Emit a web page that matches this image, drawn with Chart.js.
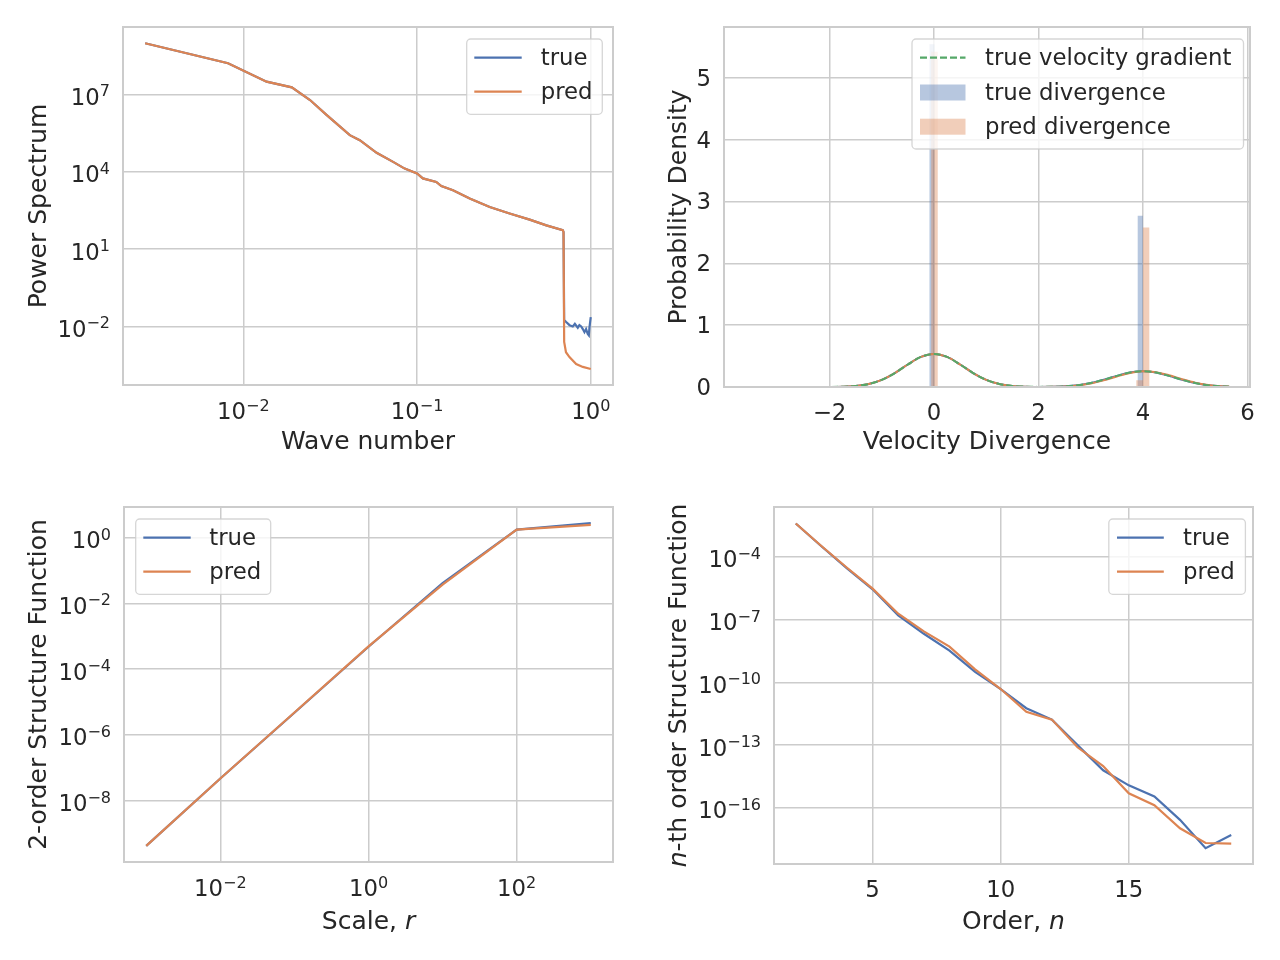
<!DOCTYPE html>
<html>
<head>
<meta charset="utf-8">
<script src="https://cdn.jsdelivr.net/npm/chart.js@4.4.1/dist/chart.umd.min.js"></script>
<style>
html, body { margin: 0; padding: 0; background: #fff; }
#wrap { position: relative; width: 1280px; height: 960px; }
canvas { position: absolute; }
</style>
</head>
<body>
<div id="wrap">
  <canvas id="spec" width="640" height="480" style="left:0;top:0"></canvas>
  <canvas id="divg" width="640" height="480" style="left:640px;top:0"></canvas>
  <canvas id="sf2" width="640" height="480" style="left:0;top:480px"></canvas>
  <canvas id="sfn" width="640" height="480" style="left:640px;top:480px"></canvas>
</div>
<script>
// ---- power spectrum (top left) ----
const waveNum = [0.00272, 0.00816, 0.0136, 0.0190, 0.0242, 0.0301, 0.0410, 0.0468, 0.0585, 0.0728,
                 0.0849, 0.100, 0.108, 0.129, 0.138, 0.161, 0.201, 0.262, 0.341, 0.445, 0.555, 0.690, 0.697];
const specMain = [9.5e8, 1.6e8, 3.1e7, 1.86e7, 6.0e6, 1.6e6, 2.6e5, 1.66e5, 5.4e4, 2.4e4,
                  1.32e4, 8.5e3, 5.5e3, 4.0e3, 2.75e3, 1.9e3, 912, 427, 240, 138, 83, 54, 46];
const waveTailTrue = [0.703, 0.722, 0.755, 0.788, 0.81, 0.842, 0.86, 0.881, 0.90, 0.92, 0.94, 0.961, 0.975, 0.983, 1.0];
const specTailTrue = [0.0178, 0.0148, 0.0112, 0.0100, 0.0126, 0.0089, 0.0112, 0.0100, 0.0079, 0.0060, 0.0079, 0.0051, 0.0045, 0.0093, 0.023];
const waveTailPred = [0.703, 0.72, 0.754, 0.824, 0.90, 1.0];
const specTailPred = [0.0025, 0.0010, 6.5e-4, 3.5e-4, 2.7e-4, 2.24e-4];
const specXTicks = [1e-2, 1e-1, 1e0];
const specYTicks = [1e-2, 1e1, 1e4, 1e7];

// ---- velocity divergence pdf (top right) ----
const kdeX = [-3.5, -3.0, -2.5, -2.0, -1.75, -1.5, -1.25, -1.0, -0.75, -0.5, -0.25, 0, 0.25, 0.5, 0.75, 1.0, 1.25, 1.5,
              1.75, 2.0, 2.25, 2.5, 2.75, 3.0, 3.25, 3.5, 3.75, 4.0, 4.25, 4.5, 4.75, 5.0, 5.25, 5.5, 5.65];
const kdeTrue = [0, 0, 0, 0.001, 0.005, 0.017, 0.048, 0.115, 0.225, 0.364, 0.486, 0.535, 0.486, 0.364, 0.225, 0.115, 0.048, 0.017,
                 0.005, 0.002, 0.004, 0.011, 0.029, 0.064, 0.117, 0.180, 0.234, 0.255, 0.234, 0.180, 0.117, 0.064, 0.029, 0.011, 0.006];
const kdePred = [0, 0, 0, 0.001, 0.005, 0.017, 0.048, 0.115, 0.225, 0.364, 0.486, 0.535, 0.486, 0.364, 0.225, 0.115, 0.048, 0.017,
                 0.005, 0.002, 0.003, 0.009, 0.025, 0.057, 0.107, 0.170, 0.226, 0.254, 0.240, 0.190, 0.126, 0.070, 0.033, 0.013, 0.007];
const kdeGrad = [0, 0, 0, 0.001, 0.005, 0.017, 0.048, 0.115, 0.225, 0.364, 0.486, 0.535, 0.486, 0.364, 0.225, 0.115, 0.048, 0.017,
                 0.005, 0.002, 0.004, 0.011, 0.029, 0.064, 0.117, 0.180, 0.234, 0.255, 0.234, 0.180, 0.117, 0.064, 0.029, 0.011, 0.006];
const trueBinLo = [-0.09, 3.90];
const trueBinHi = [0.01, 4.00];
const trueBinH = [5.54, 2.77];
const predBinLo = [-0.055, 3.873, 4.0];
const predBinHi = [0.072, 4.0, 4.127];
const predBinH = [5.42, 0.11, 2.58];
const divXTicks = [-2, 0, 2, 4, 6];
const divYTicks = [0, 1, 2, 3, 4, 5];

// ---- 2nd order structure function (bottom left) ----
const scaleR = [0.001, 0.01, 0.1, 1, 10, 100, 1000];
const sf2True = [4.2e-10, 4.7e-8, 4.7e-6, 4.8e-4, 0.041, 1.74, 2.75];
const sf2Pred = [4.2e-10, 4.7e-8, 4.8e-6, 4.9e-4, 0.037, 1.74, 2.45];
const sf2XTicks = [1e-2, 1e0, 1e2];
const sf2YTicks = [1e-8, 1e-6, 1e-4, 1e-2, 1e0];

// ---- n-th order structure function (bottom right) ----
const orderN = [2, 3, 4, 5, 6, 7, 8, 9, 10, 11, 12, 13, 14, 15, 16, 17, 18, 19];
const sfnTrue = [3.9e-3, 3.2e-4, 2.8e-5, 2.8e-6, 1.6e-7, 2.1e-8, 3.3e-9, 3.2e-10, 4.8e-11,
                 5.8e-12, 1.66e-12, 1.0e-13, 6.3e-15, 1.2e-15, 3.5e-16, 2.7e-17, 1.2e-18, 5.1e-18];
const sfnPred = [3.9e-3, 3.3e-4, 3.0e-5, 3.0e-6, 1.9e-7, 2.75e-8, 5.1e-9, 4.2e-10, 4.8e-11,
                 3.9e-12, 1.66e-12, 7.9e-14, 1.0e-14, 5.0e-16, 1.35e-16, 1.07e-17, 2.1e-18, 1.95e-18];
const sfnXTicks = [5, 10, 15];
const sfnYTicks = [1e-4, 1e-7, 1e-10, 1e-13, 1e-16];

const BLUE = '#4c72b0', ORANGE = '#dd8452', GREEN = '#55a868';
const INK = '#262626', GRID = '#cccccc';
const FAM = '"DejaVu Sans"';
const TICK_FONT = '22.8px ' + FAM, EXP_FONT = '16px ' + FAM;
const LABEL_FONT = '25px ' + FAM, LABEL_IT = 'italic 25px ' + FAM;
const LEG_FONT = '22.8px ' + FAM;

Chart.defaults.font.family = 'DejaVu Sans';

const pts = (xs, ys) => xs.map((x, i) => ({ x: x, y: ys[i] }));

function binPolygon(lo, hi, h) {
    const out = [];
    lo.forEach((l, i) => {
        out.push({ x: l, y: 0 }, { x: l, y: h[i] }, { x: hi[i], y: h[i] }, { x: hi[i], y: 0 });
    });
    return out;
}

function axis(type, min, max, ticks, isY, size) {
    return {
        type: type,
        min: min,
        max: max,
        bounds: 'data',
        grid: { color: GRID, lineWidth: 1.5, drawTicks: false },
        border: { display: false },
        ticks: { display: false },
        afterBuildTicks: s => { s.ticks = ticks.map(v => ({ value: v })); },
        afterFit: s => { if (isY) s.width = size; else s.height = size; }
    };
}

function fmtNum(v) {
    return v < 0 ? '\u2212' + Math.abs(v) : String(v);
}

function drawTick(ctx, isLog, v, x, y, align) {
    ctx.textBaseline = 'alphabetic';
    if (!isLog) {
        ctx.font = TICK_FONT;
        ctx.textAlign = align;
        ctx.fillText(fmtNum(v), x, y);
        return;
    }
    const es = fmtNum(Math.round(Math.log10(v)));
    ctx.font = TICK_FONT;
    const wb = ctx.measureText('10').width;
    ctx.font = EXP_FONT;
    const we = ctx.measureText(es).width;
    const x0 = align === 'center' ? x - (wb + we) / 2 : x - (wb + we);
    ctx.textAlign = 'left';
    ctx.font = TICK_FONT;
    ctx.fillText('10', x0, y);
    ctx.font = EXP_FONT;
    ctx.fillText(es, x0 + wb, y - 8.5);
}

function drawSegs(ctx, segs, cx, cy, vertical) {
    let w = 0;
    segs.forEach(s => { ctx.font = s.it ? LABEL_IT : LABEL_FONT; w += ctx.measureText(s.t).width; });
    ctx.save();
    ctx.translate(cx, cy);
    if (vertical) ctx.rotate(-Math.PI / 2);
    ctx.textAlign = 'left';
    ctx.textBaseline = 'alphabetic';
    let x = -w / 2;
    segs.forEach(s => {
        ctx.font = s.it ? LABEL_IT : LABEL_FONT;
        ctx.fillText(s.t, x, 0);
        x += ctx.measureText(s.t).width;
    });
    ctx.restore();
}

function drawLegend(chart, L) {
    const ctx = chart.ctx;
    const r = 4;
    ctx.save();
    ctx.beginPath();
    ctx.moveTo(L.x0 + r, L.y0);
    ctx.arcTo(L.x1, L.y0, L.x1, L.y1, r);
    ctx.arcTo(L.x1, L.y1, L.x0, L.y1, r);
    ctx.arcTo(L.x0, L.y1, L.x0, L.y0, r);
    ctx.arcTo(L.x0, L.y0, L.x1, L.y0, r);
    ctx.closePath();
    ctx.fillStyle = 'rgba(255,255,255,0.8)';
    ctx.fill();
    ctx.strokeStyle = 'rgba(204,204,204,0.8)';
    ctx.lineWidth = 1.3;
    ctx.stroke();
    L.items.forEach((idx, i) => {
        const ds = chart.data.datasets[idx];
        const y = L.rows[i];
        if (ds.fill) {
            ctx.fillStyle = ds.backgroundColor;
            ctx.fillRect(L.sx0, y - 8, L.sx1 - L.sx0, 16);
        } else {
            ctx.strokeStyle = ds.borderColor;
            ctx.lineWidth = 2.2;
            ctx.setLineDash(ds.borderDash || []);
            ctx.beginPath();
            ctx.moveTo(L.sx0, y);
            ctx.lineTo(L.sx1, y);
            ctx.stroke();
            ctx.setLineDash([]);
        }
        ctx.fillStyle = INK;
        ctx.font = LEG_FONT;
        ctx.textAlign = 'left';
        ctx.textBaseline = 'alphabetic';
        ctx.fillText(ds.label, L.tx, y + 7.5);
    });
    ctx.restore();
}

const decor = {
    id: 'decor',
    afterDraw(chart, args, o) {
        const ctx = chart.ctx, a = chart.chartArea;
        const xs = chart.scales.x, ys = chart.scales.y;
        ctx.save();
        ctx.strokeStyle = GRID;
        ctx.lineWidth = 2;
        ctx.strokeRect(a.left, a.top, a.right - a.left, a.bottom - a.top);
        ctx.fillStyle = INK;
        o.xTicks.forEach(v => drawTick(ctx, o.xLog, v, xs.getPixelForValue(v), a.bottom + (o.xLog ? 34 : 33), 'center'));
        o.yTicks.forEach(v => drawTick(ctx, o.yLog, v, a.left - 13, ys.getPixelForValue(v) + (o.yLog ? 10.5 : 8), 'right'));
        drawSegs(ctx, o.xTitle, (a.left + a.right) / 2, 448.5, false);
        drawSegs(ctx, o.yTitle, 46, (a.top + a.bottom) / 2, true);
        ctx.restore();
        drawLegend(chart, o.legend);
    }
};

function lineDs(label, data, color, order, extra) {
    return Object.assign({
        label: label, data: data, borderColor: color, backgroundColor: color,
        borderWidth: 2.2, pointRadius: 0, tension: 0, fill: false, order: order
    }, extra || {});
}

function makeChart(id, cfg) {
    return new Chart(document.getElementById(id), {
        type: 'line',
        data: { datasets: cfg.datasets },
        options: {
            responsive: false,
            animation: false,
            devicePixelRatio: 1,
            layout: { padding: { left: 0, top: cfg.pad[0], right: cfg.pad[1], bottom: 0 } },
            scales: { x: cfg.x, y: cfg.y },
            plugins: { legend: { display: false }, tooltip: { enabled: false }, decor: cfg.decor }
        },
        plugins: [decor]
    });
}

// top left
makeChart('spec', {
    pad: [27, 27],
    x: axis('logarithmic', 0.002028, 1.343, specXTicks, false, 95),
    y: axis('logarithmic', 5.37e-5, 4.07e9, specYTicks, true, 123),
    datasets: [
        lineDs('true', pts(waveNum.concat(waveTailTrue), specMain.concat(specTailTrue)), BLUE, 2),
        lineDs('pred', pts(waveNum.concat(waveTailPred), specMain.concat(specTailPred)), ORANGE, 1)
    ],
    decor: {
        xTicks: specXTicks, yTicks: specYTicks, xLog: true, yLog: true,
        xTitle: [{ t: 'Wave number' }], yTitle: [{ t: 'Power Spectrum' }],
        legend: { x0: 466.7, x1: 602.3, y0: 39, y1: 114.3, sx0: 474.3, sx1: 521.7, tx: 540.7, rows: [57.7, 91.7], items: [0, 1] }
    }
});

// top right
makeChart('divg', {
    pad: [27, 30],
    x: axis('linear', -4.02, 6.05, divXTicks, false, 93),
    y: axis('linear', 0, 5.82, divYTicks, true, 84),
    datasets: [
        lineDs('true divergence', binPolygon(trueBinLo, trueBinHi, trueBinH), 'rgba(0,0,0,0)', 6,
            { fill: 'origin', backgroundColor: 'rgba(76,114,176,0.4)', borderWidth: 0 }),
        lineDs('true kde', pts(kdeX, kdeTrue), BLUE, 5, { cubicInterpolationMode: 'monotone', borderWidth: 2 }),
        lineDs('pred divergence', binPolygon(predBinLo, predBinHi, predBinH), 'rgba(0,0,0,0)', 4,
            { fill: 'origin', backgroundColor: 'rgba(221,132,82,0.4)', borderWidth: 0 }),
        lineDs('pred kde', pts(kdeX, kdePred), ORANGE, 3, { cubicInterpolationMode: 'monotone', borderWidth: 2 }),
        lineDs('true velocity gradient', pts(kdeX, kdeGrad), GREEN, 1,
            { cubicInterpolationMode: 'monotone', borderWidth: 2, borderDash: [7, 3] })
    ],
    decor: {
        xTicks: divXTicks, yTicks: divYTicks, xLog: false, yLog: false,
        xTitle: [{ t: 'Velocity Divergence' }], yTitle: [{ t: 'Probability Density' }],
        legend: { x0: 272, x1: 603.5, y0: 39, y1: 149, sx0: 280, sx1: 325.5, tx: 345, rows: [57.7, 92.5, 126.7], items: [4, 0, 2] }
    }
});

// bottom left
makeChart('sf2', {
    pad: [27, 27],
    x: axis('logarithmic', 5.01e-4, 1995, sf2XTicks, false, 98),
    y: axis('logarithmic', 1.36e-10, 8.51, sf2YTicks, true, 124),
    datasets: [
        lineDs('true', pts(scaleR, sf2True), BLUE, 2),
        lineDs('pred', pts(scaleR, sf2Pred), ORANGE, 1)
    ],
    decor: {
        xTicks: sf2XTicks, yTicks: sf2YTicks, xLog: true, yLog: true,
        xTitle: [{ t: 'Scale, ' }, { t: 'r', it: true }], yTitle: [{ t: '2-order Structure Function' }],
        legend: { x0: 135.7, x1: 270.7, y0: 39, y1: 114.3, sx0: 143.3, sx1: 190.7, tx: 209.3, rows: [57.7, 91.7], items: [0, 1] }
    }
});

// bottom right
makeChart('sfn', {
    pad: [27, 27],
    x: axis('linear', 1.15, 19.85, sfnXTicks, false, 96),
    y: axis('logarithmic', 2.09e-19, 0.024, sfnYTicks, true, 134),
    datasets: [
        lineDs('true', pts(orderN, sfnTrue), BLUE, 2),
        lineDs('pred', pts(orderN, sfnPred), ORANGE, 1)
    ],
    decor: {
        xTicks: sfnXTicks, yTicks: sfnYTicks, xLog: false, yLog: true,
        xTitle: [{ t: 'Order, ' }, { t: 'n', it: true }], yTitle: [{ t: 'n', it: true }, { t: '-th order Structure Function' }],
        legend: { x0: 468.8, x1: 605.4, y0: 39, y1: 114.3, sx0: 477, sx1: 523.8, tx: 543, rows: [57.7, 91.7], items: [0, 1] }
    }
});
</script>
</body>
</html>
